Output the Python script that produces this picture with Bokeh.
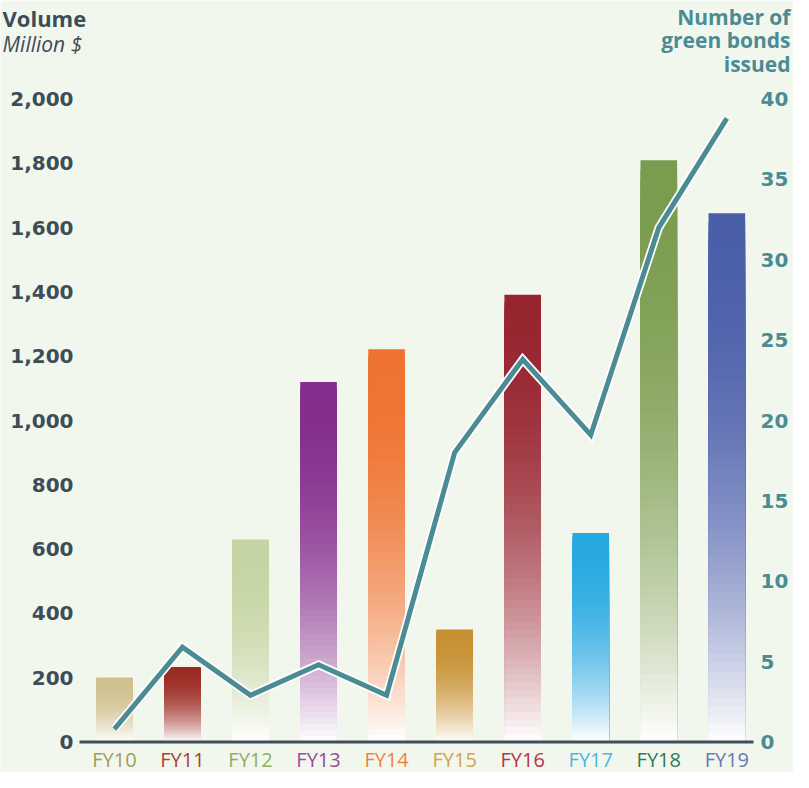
from bokeh.plotting import figure
from bokeh.models import Range1d, ColumnDataSource
from bokeh.core.properties import value
from bokeh.embed import file_html
from bokeh.resources import INLINE

# ---------------- data ----------------
years = ["FY10", "FY11", "FY12", "FY13", "FY14", "FY15", "FY16", "FY17", "FY18", "FY19"]
volume = [200, 233, 630, 1120, 1222, 350, 1391, 650, 1810, 1645]          # Million $
bonds = [0.8, 5.9, 2.9, 4.8, 2.9, 18, 23.8, 19.1, 32, 38.8]                # number issued
bar_colors = ["#cfc08e", "#9c2b23", "#c4d4a2", "#842d8c", "#ee7330",
              "#c79032", "#972530", "#27a8e0", "#7a9c4e", "#4b5eaa"]
label_colors = ["#a09c5c", "#a8413a", "#8fae62", "#9b4a9f", "#f2813f",
                "#d6a150", "#b5344a", "#4ab6e6", "#2f7a55", "#6a77b5"]
left_ticks = list(range(0, 2001, 200))
left_tick_labels = ["{:,}".format(t) for t in left_ticks]
right_ticks = list(range(0, 41, 5))
right_tick_labels = [str(t) for t in right_ticks]

# ---------------- layout (figure pixels) ----------------
BG = "#f2f7ed"
DARK = "#3c4d58"
TEAL = "#4a8b94"
W, H = 793, 772
BAR0, STEP = 113.9, 68.05      # centre of first bar, spacing
BASE_Y, TOP_Y = 741.4, 98.6    # pixel row of 0 and of 2000 / 40
PXV = (BASE_Y - TOP_Y) / 2000.0
PXC = (BASE_Y - TOP_Y) / 40.0


def dx(px):
    return (px - BAR0) / STEP


def dy(py):
    return (BASE_Y - py) / PXV


p = figure(width=W, height=H,
           x_range=Range1d(dx(0), dx(W)),
           y_range=Range1d(-(H - BASE_Y) / PXV, BASE_Y / PXV),
           output_backend="svg", toolbar_location=None,
           x_axis_location=None, y_axis_location=None,
           min_border_left=0, min_border_right=0, min_border_top=0, min_border_bottom=0)
p.background_fill_color = BG
p.border_fill_color = BG
p.outline_line_color = None
p.grid.visible = False
p.extra_y_ranges = {"count": Range1d(-(H - BASE_Y) / PXC, BASE_Y / PXC)}

# gradient bars: stacked quads, tallest (full colour) first
N = 60
half = 18.3 / STEP
qx0, qx1, qtop, qcol = [], [], [], []
for i, (v, c) in enumerate(zip(volume, bar_colors)):
    r, g, b = int(c[1:3], 16), int(c[3:5], 16), int(c[5:7], 16)
    for k in range(N, 0, -1):
        f = (k - 0.5) / N
        mix = 1 - (1 - f) ** 2.1
        rr = round(255 + (r - 255) * mix)
        gg = round(255 + (g - 255) * mix)
        bb = round(255 + (b - 255) * mix)
        qx0.append(i - half)
        qx1.append(i + half)
        qtop.append(v * k / N)
        qcol.append("#%02x%02x%02x" % (rr, gg, bb))
src = ColumnDataSource(dict(left=qx0, right=qx1, top=qtop, bottom=[0] * len(qtop), color=qcol))
p.quad(left="left", right="right", top="top", bottom="bottom", fill_color="color",
       line_color=None, source=src)

# baseline (x axis line)
p.segment(x0=[dx(79)], y0=[0], x1=[dx(753)], y1=[0], line_color="#3f4f59", line_width=3)

# line: number of green bonds
xs = list(range(len(years)))
p.line(xs, bonds, y_range_name="count", line_color="white", line_width=8.5, line_join="miter")
p.line(xs, bonds, y_range_name="count", line_color=TEAL, line_width=5, line_join="miter")

# category labels
lsrc = ColumnDataSource(dict(x=xs, y=[0] * len(xs), t=years, c=label_colors))
p.text(x="x", y="y", text="t", text_color="c", source=lsrc, text_align="center",
       text_baseline="middle", y_offset=18, text_font=value("Open Sans"),
       text_font_size="20px")

# left axis tick labels
p.text(x=[dx(73)] * len(left_ticks), y=left_ticks, text=left_tick_labels,
       text_align="right", text_baseline="middle", text_font=value("DejaVu Sans"),
       text_font_style="bold", text_font_size="20px", text_color=DARK)

# right axis tick labels
p.text(x=[dx(760)] * len(right_ticks), y=right_ticks, text=right_tick_labels,
       y_range_name="count", text_align="left", text_baseline="middle",
       text_font=value("DejaVu Sans"), text_font_style="bold", text_font_size="20px",
       text_color=TEAL)

# axis titles
p.text(x=[dx(2)], y=[dy(17)], text=["Volume"], text_align="left", text_baseline="middle",
       text_font=value("Open Sans"), text_font_style="bold", text_font_size="22px",
       text_color=DARK)
p.text(x=[dx(2)], y=[dy(43)], text=["Million $"], text_align="left",
       text_baseline="middle", text_font=value("Open Sans"), text_font_style="italic",
       text_font_size="21px", text_color=DARK)
p.text(x=[dx(790)] * 3, y=[dy(16), dy(39.5), dy(63)],
       text=["Number of", "green bonds", "issued"], text_align="right",
       text_baseline="middle", text_font=value("Open Sans"), text_font_style="bold",
       text_font_size="21px", text_color=TEAL)

open("out.html", "w").write(file_html(p, INLINE))
